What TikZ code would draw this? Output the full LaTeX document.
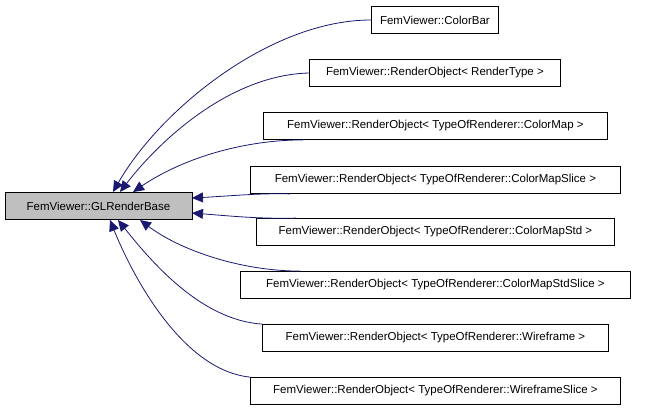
\documentclass[tikz,border=0pt]{standalone}
\usepackage{fontspec}
\setmainfont{Liberation Sans}
\usetikzlibrary{arrows.meta}
\begin{document}
\begin{tikzpicture}[x=1pt,y=-1pt,
  box/.style={draw=black,line width=0.8pt,fill=white,minimum height=27pt,inner xsep=4pt,anchor=west,font=\fontsize{11.5}{13}\selectfont},
  e/.style={draw={rgb,255:red,25;green,25;blue,112},line width=0.8pt,-{Triangle[length=11pt,width=10pt,fill={rgb,255:red,25;green,25;blue,112}]}}]
\useasboundingbox (0,0) rectangle (656,413);
\node[box,fill={rgb,255:red,191;green,191;blue,191},minimum width=187pt,anchor=center] (b) at (98.5,206) {FemViewer::GLRenderBase};
\node[box,minimum width=127pt] (n1) at (371,20) {FemViewer::ColorBar};
\node[box,minimum width=251pt] (n2) at (309,73) {FemViewer::RenderObject< RenderType >};
\node[box,minimum width=344pt] (n3) at (263,126) {FemViewer::RenderObject< TypeOfRenderer::ColorMap >};
\node[box,minimum width=370pt] (n4) at (250,180) {FemViewer::RenderObject< TypeOfRenderer::ColorMapSlice >};
\node[box,minimum width=358pt] (n5) at (256,232) {FemViewer::RenderObject< TypeOfRenderer::ColorMapStd >};
\node[box,minimum width=390pt] (n6) at (240,285) {FemViewer::RenderObject< TypeOfRenderer::ColorMapStdSlice >};
\node[box,minimum width=346pt] (n7) at (262,338) {FemViewer::RenderObject< TypeOfRenderer::Wireframe >};
\node[box,minimum width=370pt] (n8) at (250,391) {FemViewer::RenderObject< TypeOfRenderer::WireframeSlice >};
\draw[e] (n1.west) .. controls (270,20) and (160,110) .. (113,192);
\draw[e] (n2.west) .. controls (230,75) and (160,140) .. (120,192);
\draw[e] (n3.south west) ++(40,0) .. controls (240,140) and (180,160) .. (133,192);
\draw[e] (n4.south west) ++(40,0) .. controls (260,193) and (230,196) .. (192,198);
\draw[e] (n5.north west) ++(40,0) .. controls (260,219) and (230,216) .. (192,213);
\draw[e] (n6.north west) ++(60,0) .. controls (240,271) and (180,250) .. (140,220);
\draw[e] (n7.north west) ++(0,0) .. controls (200,320) and (150,260) .. (118,220);
\draw[e] (n8.north west) ++(0,0) .. controls (180,370) and (130,270) .. (110,220);
\end{tikzpicture}
\end{document}
